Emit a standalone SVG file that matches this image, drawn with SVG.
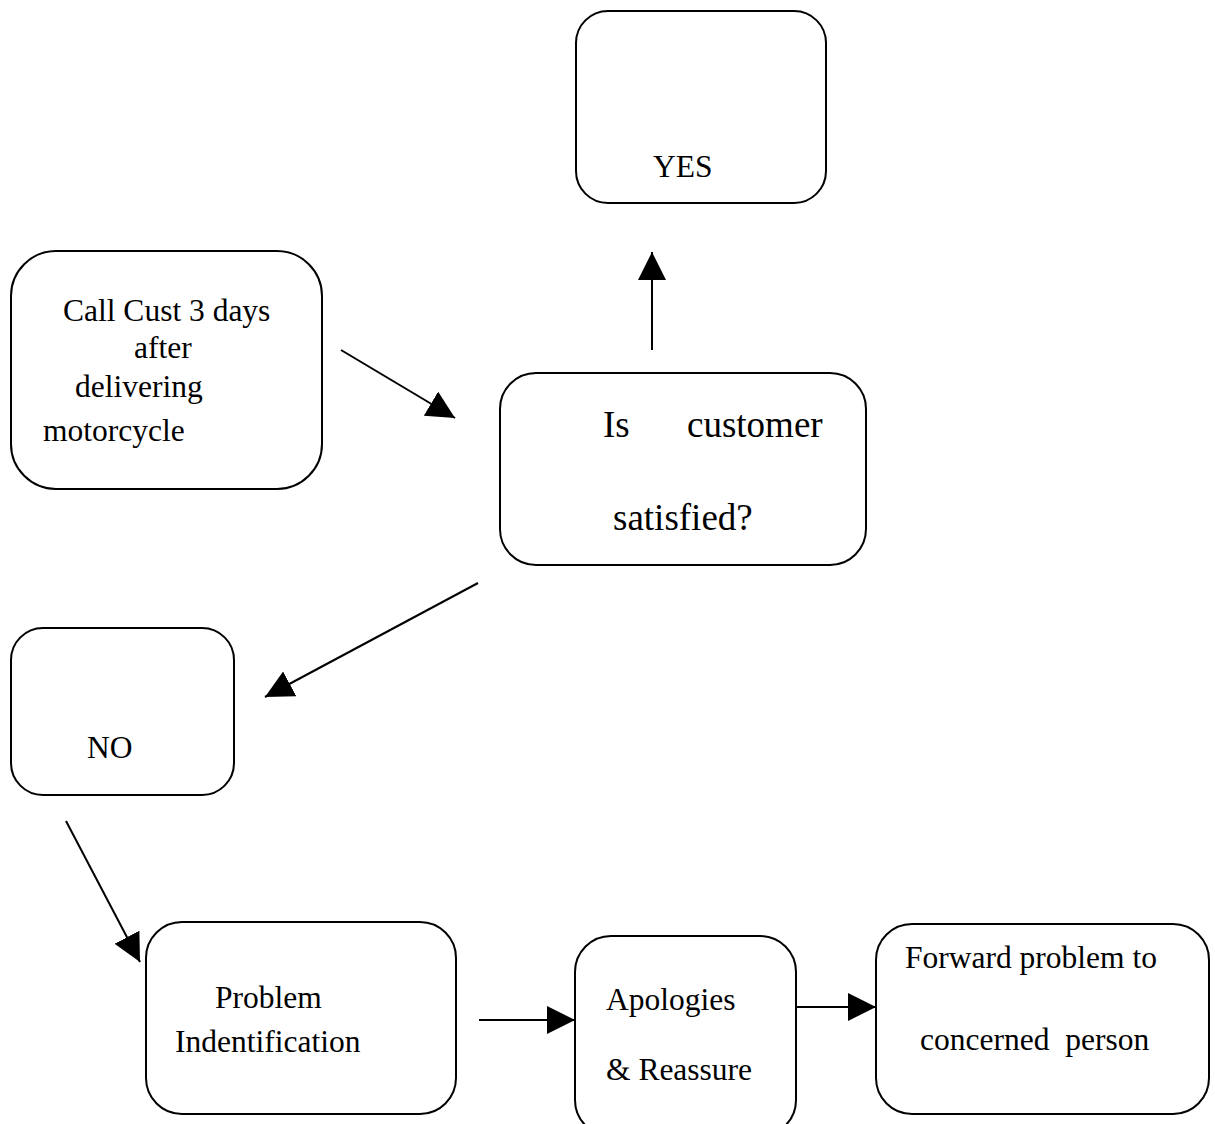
<svg xmlns="http://www.w3.org/2000/svg" width="1215" height="1124" viewBox="0 0 1215 1124">
<style>
.box{fill:#fff;stroke:#000;stroke-width:2}
.t{font-family:"Liberation Serif","Times New Roman",serif;font-size:31.5px;fill:#000}
.big{font-size:37px}
.c{stroke:#000;stroke-width:2;fill:none}
</style>
<defs>
<marker id="ah" markerUnits="userSpaceOnUse" markerWidth="30" markerHeight="30" refX="28" refY="14" orient="auto">
<path d="M0,0 L28,14 L0,28 Z" fill="#000"/>
</marker>
</defs>
<rect width="1215" height="1124" fill="#fff"/>
<g id="connectors">
<line class="c" x1="341" y1="350" x2="455" y2="418" marker-end="url(#ah)"/>
<line class="c" x1="652" y1="350" x2="652" y2="252" marker-end="url(#ah)"/>
<line class="c" x1="478" y1="583" x2="265" y2="697" marker-end="url(#ah)"/>
<line class="c" x1="66" y1="821" x2="140" y2="962" marker-end="url(#ah)"/>
<line class="c" x1="479" y1="1020" x2="575" y2="1020" marker-end="url(#ah)"/>
<line class="c" x1="796" y1="1007" x2="876" y2="1007" marker-end="url(#ah)"/>
</g>
<g id="yes">
<rect class="box" x="576" y="11" width="250" height="192" rx="32"/>
<text class="t" x="653" y="177">YES</text>
</g>
<g id="call">
<rect class="box" x="11" y="251" width="311" height="238" rx="45"/>
<text class="t" x="63" y="321">Call Cust 3 days</text>
<text class="t" x="134" y="358">after</text>
<text class="t" x="75" y="397">delivering</text>
<text class="t" x="43" y="441">motorcycle</text>
</g>
<g id="decision">
<rect class="box" x="500" y="373" width="366" height="192" rx="36"/>
<text class="t big" x="603" y="437">Is</text>
<text class="t big" x="687" y="437">customer</text>
<text class="t big" x="613" y="530">satisfied?</text>
</g>
<g id="no">
<rect class="box" x="11" y="628" width="223" height="167" rx="32"/>
<text class="t" x="87" y="758">NO</text>
</g>
<g id="problem">
<rect class="box" x="146" y="922" width="310" height="192" rx="36"/>
<text class="t" x="215" y="1008">Problem</text>
<text class="t" x="175" y="1052">Indentification</text>
</g>
<g id="apologies">
<rect class="box" x="575" y="936" width="221" height="200" rx="36"/>
<text class="t" x="606" y="1010">Apologies</text>
<text class="t" x="606" y="1080">&amp; Reassure</text>
</g>
<g id="forward">
<rect class="box" x="876" y="924" width="333" height="190" rx="36"/>
<text class="t" x="905" y="968">Forward problem to</text>
<text class="t" x="920" y="1050" xml:space="preserve">concerned  person</text>
</g>
</svg>
